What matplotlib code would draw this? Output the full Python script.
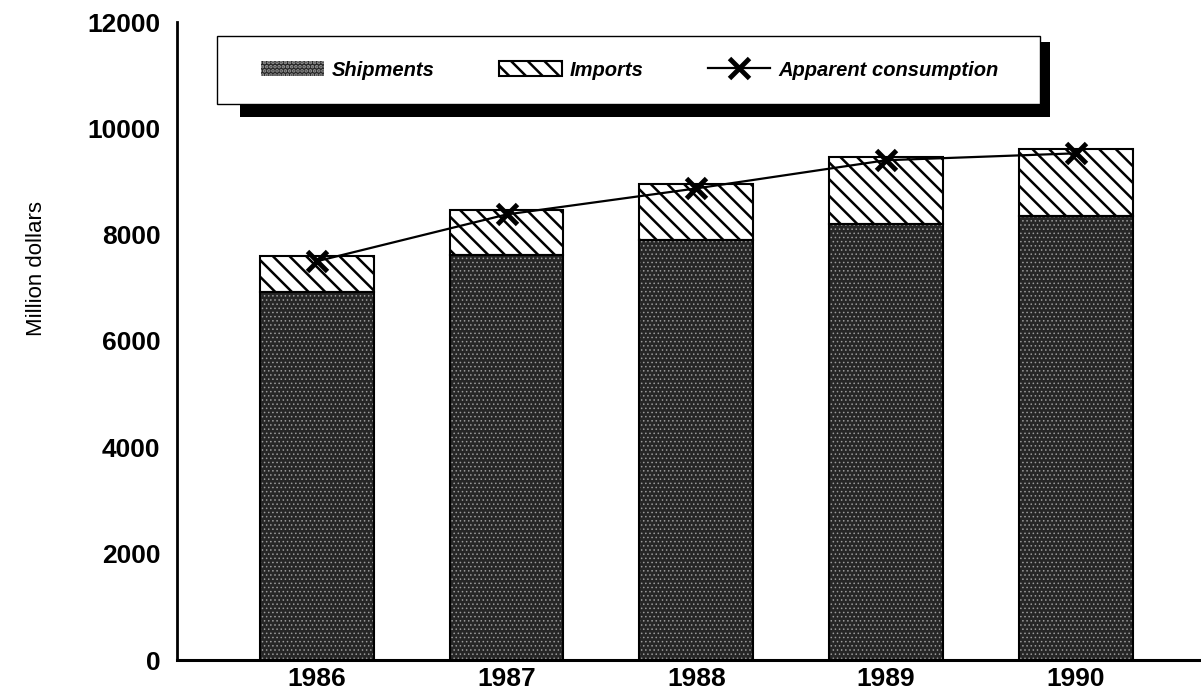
import matplotlib.pyplot as plt
from matplotlib.patches import Rectangle
import numpy as np

# Data (million dollars)
years = ['1986', '1987', '1988', '1989', '1990']
shipments = [6920, 7610, 7900, 8210, 8350]
imports = [680, 850, 1050, 1260, 1270]
consumption = [7500, 8380, 8870, 9400, 9530]
yticks = [0, 2000, 4000, 6000, 8000, 10000, 12000]

plt.rcParams['font.family'] = ['Liberation Sans', 'DejaVu Sans']
plt.rcParams['hatch.linewidth'] = 1.8

W, H = 1201, 694
fig = plt.figure(figsize=(W / 100, H / 100), dpi=100)
ax = fig.add_axes([177 / W, 34 / H, 1 - 177 / W, 638 / H])

x = np.arange(len(years))
width = 0.6

# dark stippled shipments
with plt.rc_context({'hatch.linewidth': 0.6}):
    ship = ax.bar(x, shipments, width, facecolor='#262626', edgecolor='#9a9a9a',
                  hatch='....', linewidth=0, label='Shipments', zorder=2)
ax.bar(x, shipments, width, fill=False, edgecolor='black', linewidth=1.5, zorder=3)
imp = ax.bar(x, imports, width, bottom=shipments, facecolor='white',
             edgecolor='black', hatch='\\\\', linewidth=1.5, label='Imports', zorder=2)
line, = ax.plot(x, consumption, color='black', lw=1.6, marker='x', markersize=14,
                markeredgewidth=3.5, label='Apparent consumption', zorder=4)

ax.set_xlim(-0.737, 4.66)
ax.set_ylim(0, 12000)
ax.set_xticks(x)
ax.set_xticklabels(years)
ax.set_yticks(yticks)
ax.set_yticklabels([str(v) for v in yticks])
ax.tick_params(axis='both', length=0, labelsize=19)
ax.tick_params(axis='y', pad=12)
ax.tick_params(axis='x', pad=5)
for lab in ax.get_xticklabels() + ax.get_yticklabels():
    lab.set_fontweight('bold')

for s in ['top', 'right']:
    ax.spines[s].set_visible(False)
ax.spines['left'].set_linewidth(2.0)
ax.spines['bottom'].set_linewidth(2.2)

fig.text(37 / W, 1 - 268 / H, 'Million dollars', rotation=90, ha='center',
         va='center', fontsize=16)

# legend box with drop shadow
fig.patches.append(Rectangle((240 / W, 1 - 117 / H), 810 / W, 75 / H,
                             transform=fig.transFigure, facecolor='black',
                             edgecolor='none', zorder=5))
fig.patches.append(Rectangle((217 / W, 1 - 104 / H), 823 / W, 68 / H,
                             transform=fig.transFigure, facecolor='white',
                             edgecolor='black', linewidth=1.0, zorder=6))
leg = fig.legend(handles=[ship, imp, line], loc='center',
                 bbox_to_anchor=(630 / W, 1 - 70 / H), ncol=3, frameon=False,
                 handlelength=3.1, handleheight=0.75, handletextpad=0.4,
                 columnspacing=3.2,
                 prop={'size': 14.5, 'style': 'italic', 'weight': 'bold'})
leg.set_zorder(7)

fig.savefig('out.png', dpi=100)
